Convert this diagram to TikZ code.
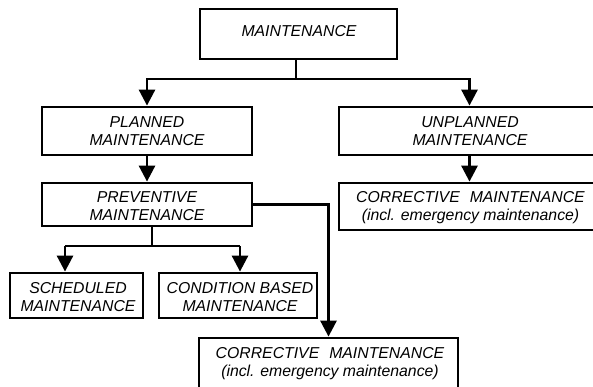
\documentclass[tikz,border=0pt]{standalone}
\usepackage{fontspec}
\setmainfont{Liberation Sans}
\usetikzlibrary{arrows.meta,calc}
\begin{document}
\begin{tikzpicture}[x=1pt,y=-1pt,
  box/.style={draw, line width=2.8pt, rectangle, inner sep=0pt},
  txt/.style={align=center, inner sep=0pt, font=\fontsize{15.8}{18}\selectfont\itshape},
  conn/.style={line width=2.8pt, -{Triangle[width=16pt,length=16pt]}},
  plain/.style={line width=2.8pt}]
\useasboundingbox (0,0) rectangle (593,386);
\clip (0,0) rectangle (593,386);
% boxes
\node[box, minimum width=197pt, minimum height=50pt] (top) at (298.5,34) {};
\node[box, minimum width=210pt, minimum height=48pt] (planned) at (147,131) {};
\node[box, minimum width=261pt, minimum height=48pt] (unplanned) at (469.5,131) {};
\node[box, minimum width=210pt, minimum height=43pt] (prev) at (147,204.5) {};
\node[box, minimum width=261pt, minimum height=47pt] (corrR) at (469.5,206.5) {};
\node[box, minimum width=133pt, minimum height=45pt] (sched) at (76.5,295.5) {};
\node[box, minimum width=158pt, minimum height=45pt] (cond) at (238,295.5) {};
\node[box, minimum width=259pt, minimum height=56pt] (corrB) at (328.5,366) {};
% texts
\node[txt] (topT) at (299,31) {MAINTENANCE};
\node[txt] (plannedT) at (147,131) {PLANNED\\MAINTENANCE};
\node[txt] (unplannedT) at (470,131) {UNPLANNED\\MAINTENANCE};
\node[txt] (prevT) at (147,206) {PREVENTIVE\\MAINTENANCE};
\node[txt] (corrRT) at (470.5,207.5) {CORRECTIVE\hspace{10pt}MAINTENANCE\\(incl. emergency maintenance)};
\node[txt] (corrBT) at (330,363.5) {CORRECTIVE\hspace{10pt}MAINTENANCE\\(incl. emergency maintenance)};
\node[txt] (schedT) at (78,296.8) {SCHEDULED\\MAINTENANCE};
\node[txt] (condT) at (240,296.8) {CONDITION BASED\\MAINTENANCE};
% clipped lower part of text in small boxes
\fill[white] (11.6,311.8) rectangle (141.4,316.5);
\fill[white] (160.6,311.8) rectangle (315.4,316.5);
% connectors
\coordinate (j1) at (296,79);
\draw[plain] (top.south -| j1) -- (j1);
\draw[conn] (j1) -| (planned.north);
\draw[conn] (j1) -| (unplanned.north);
\draw[conn] (planned.south) -- (prev.north);
\draw[conn] (unplanned.south) -- (corrR.north);
\coordinate (j2) at (152,246);
\coordinate (s1) at (65,246);
\coordinate (c1) at (240,246);
\draw[plain] (prev.south -| j2) -- (j2);
\draw[plain] (s1) -- (c1);
\draw[conn] (s1) -- (s1 |- sched.north);
\draw[conn] (c1) -- (c1 |- cond.north);
\draw[conn] (prev.east) -| (corrB.north);
\end{tikzpicture}
\end{document}
